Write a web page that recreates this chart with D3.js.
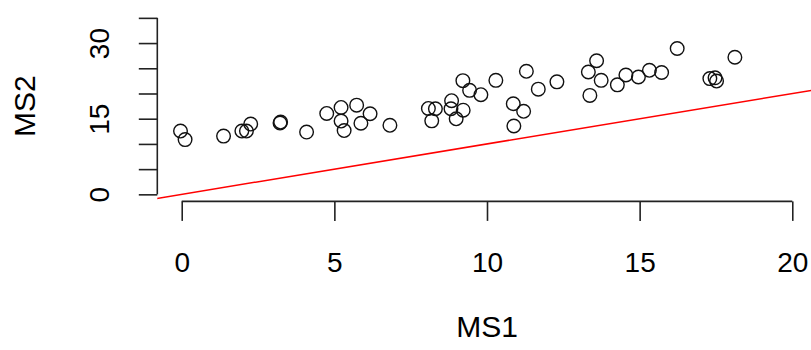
<!DOCTYPE html>
<html>
<head>
<meta charset="utf-8">
<script src="https://cdnjs.cloudflare.com/ajax/libs/d3/7.8.5/d3.min.js"></script>
<style>
    body { margin: 0; background: #fff; }
    text { font-family: "Liberation Sans", Arial, Helvetica, sans-serif; fill: #000; }
</style>
</head>
<body>
<div id="scatter"></div>
<script>
// MS1 vs MS2 scatter with y = x reference line

var ms1 = [-0.04, 0.11, 1.37, 1.97, 2.12, 2.26, 3.22, 3.24, 4.09, 4.75,
    5.22, 5.22, 5.32, 5.73, 6.17, 5.87, 6.82, 8.08, 8.31, 8.19,
    8.84, 8.82, 9.22, 8.99, 9.21, 9.43, 9.80, 10.29, 11.29, 11.68,
    12.29, 10.86, 11.20, 10.88, 13.32, 13.59, 13.74, 13.37, 14.27, 14.55,
    14.96, 15.32, 15.72, 16.23, 17.30, 17.47, 17.52, 18.12];

var ms2 = [12.55, 10.86, 11.55, 12.55, 12.55, 13.94, 14.14, 14.34, 12.35, 16.04,
    17.23, 14.54, 12.65, 17.69, 15.98, 14.10, 13.69, 17.03, 16.97, 14.58,
    18.57, 16.97, 16.69, 14.98, 22.55, 20.62, 19.76, 22.61, 24.40, 20.86,
    22.31, 17.97, 16.47, 13.55, 24.26, 26.49, 22.61, 19.62, 21.71, 23.67,
    23.27, 24.60, 24.16, 28.92, 22.95, 23.11, 22.47, 27.19];

var x_ticks = [0, 5, 10, 15, 20];
var y_ticks = [0, 5, 10, 15, 20, 25, 30, 35];
var y_labels = [0, 15, 30];

var xlim = [0, 20];
var ylim = [0, 35];

var width = 811;
var height = 350;

var svg = d3.select('#scatter')
    .append('svg')
    .attr('width', width)
    .attr('height', height);

// plot region, R style: limits padded by 4%
var x_pad = (xlim[1] - xlim[0]) * 0.04;
var y_pad = (ylim[1] - ylim[0]) * 0.04;

var x_scale = d3.scaleLinear()
    .domain([xlim[0] - x_pad, xlim[1] + x_pad])
    .range([157.3, 816.7]);

var y_scale = d3.scaleLinear()
    .domain([ylim[0] - y_pad, ylim[1] + y_pad])
    .range([201.4, 10.8]);

svg.append('clipPath')
    .attr('id', 'plotArea')
    .append('rect')
    .attr('x', x_scale.range()[0])
    .attr('y', y_scale.range()[1])
    .attr('width', x_scale.range()[1] - x_scale.range()[0])
    .attr('height', y_scale.range()[0] - y_scale.range()[1]);

// x axis
var x_axis = d3.axisBottom(x_scale)
    .tickValues(x_ticks)
    .tickSize(19.5)
    .tickSizeOuter(0)
    .tickPadding(0);

var xg = svg.append('g')
    .attr('class', 'x axis')
    .attr('transform', 'translate(0,' + y_scale.range()[0] + ')')
    .call(x_axis);

xg.select('.domain').remove();
xg.append('line')
    .attr('x1', x_scale(x_ticks[0]))
    .attr('x2', x_scale(x_ticks[x_ticks.length - 1]))
    .attr('stroke', '#222')
    .attr('stroke-width', 1.6);
xg.selectAll('.tick line')
    .attr('stroke', '#222')
    .attr('stroke-width', 1.6);
xg.selectAll('.tick text')
    .attr('y', 70.5)
    .attr('dy', null)
    .style('font-size', '28px')
    .attr('fill', '#000');

// y axis
var y_axis = d3.axisLeft(y_scale)
    .tickValues(y_ticks)
    .tickSize(18.5)
    .tickSizeOuter(0)
    .tickFormat(function(d) {
        return y_labels.indexOf(d) >= 0 ? d : '';
    });

var yg = svg.append('g')
    .attr('class', 'y axis')
    .attr('transform', 'translate(' + x_scale.range()[0] + ',0)')
    .call(y_axis);

yg.select('.domain').remove();
yg.append('line')
    .attr('y1', y_scale(y_ticks[0]))
    .attr('y2', y_scale(y_ticks[y_ticks.length - 1]))
    .attr('stroke', '#222')
    .attr('stroke-width', 1.6);
yg.selectAll('.tick line')
    .attr('stroke', '#222')
    .attr('stroke-width', 1.6);
yg.selectAll('.tick text')
    .attr('x', null)
    .attr('dy', null)
    .attr('transform', 'translate(-48.5,0) rotate(-90)')
    .style('text-anchor', 'middle')
    .style('font-size', '28px')
    .attr('fill', '#000');

// y = x line
svg.append('line')
    .attr('clip-path', 'url(#plotArea)')
    .attr('x1', x_scale(-5))
    .attr('y1', y_scale(-5))
    .attr('x2', x_scale(40))
    .attr('y2', y_scale(40))
    .attr('stroke', '#ff0000')
    .attr('stroke-width', 1.5);

// points
var points = ms1.map(function(d, i) {
    return { x: d, y: ms2[i] };
});

svg.selectAll('.dot')
    .data(points)
    .enter()
    .append('circle')
    .attr('class', 'dot')
    .attr('cx', function(d) { return x_scale(d.x); })
    .attr('cy', function(d) { return y_scale(d.y); })
    .attr('r', 6.8)
    .attr('fill', 'none')
    .attr('stroke', '#111')
    .attr('stroke-width', 1.4);

// axis titles
var mid_x = (x_scale.range()[0] + x_scale.range()[1]) / 2;
var mid_y = (y_scale.range()[0] + y_scale.range()[1]) / 2;

svg.append('text')
    .attr('x', mid_x)
    .attr('y', 337)
    .style('text-anchor', 'middle')
    .style('font-size', '30px')
    .text('MS1');

svg.append('text')
    .attr('transform', 'translate(35,' + mid_y + ') rotate(-90)')
    .style('text-anchor', 'middle')
    .style('font-size', '30px')
    .text('MS2');
</script>
</body>
</html>
